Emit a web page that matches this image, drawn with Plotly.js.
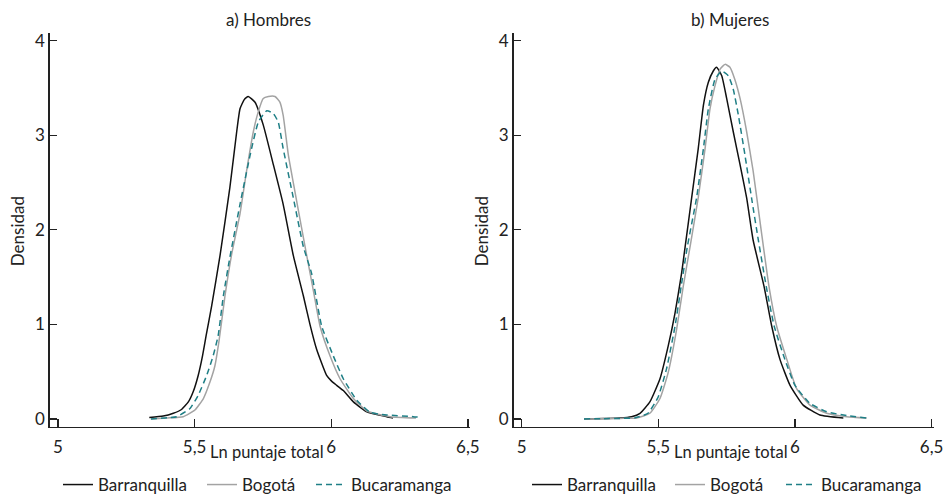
<!DOCTYPE html>
<html>
<head>
<meta charset="utf-8">
<script src="https://cdn.plot.ly/plotly-3.0.1.min.js"></script>
<style>
html,body{margin:0;padding:0;background:#fff;}
#chart{width:948px;height:503px;}
</style>
</head>
<body>
<div id="chart"></div>
<script>
// ---- Data ----
const seriesNames = ['Barranquilla', 'Bogotá', 'Bucaramanga'];
const panelTitles = ['a) Hombres', 'b) Mujeres'];
const xTitle = 'Ln puntaje total';
const yTitle = 'Densidad';
const xTickVals = [5, 5.5, 6, 6.5];
const xTickText = ['5', '5,5', '6', '6,5'];
const yTickVals = [0, 1, 2, 3, 4];

// a) Hombres
const hombresBarranquillaX = [5.334,5.385,5.422,5.452,5.477,5.495,5.513,5.529,5.542,5.562,5.593,5.629,5.654,5.666,5.682,5.696,5.721,5.751,5.788,5.824,5.861,5.898,5.922,5.946,5.983,6.001,6.020,6.044,6.081,6.130,6.203,6.226];
const hombresBarranquillaY = [0.014,0.03,0.06,0.10,0.18,0.29,0.46,0.67,0.88,1.19,1.73,2.45,3.04,3.28,3.38,3.41,3.35,3.11,2.69,2.27,1.73,1.30,1.0,0.74,0.46,0.40,0.355,0.30,0.18,0.076,0.024,0.01];
const hombresBogotaX = [5.34,5.40,5.458,5.501,5.532,5.556,5.574,5.589,5.611,5.636,5.666,5.690,5.715,5.733,5.751,5.770,5.794,5.812,5.824,5.843,5.873,5.910,5.935,5.959,5.995,6.032,6.081,6.130,6.215,6.31];
const hombresBogotaY = [0.0,0.01,0.024,0.094,0.216,0.39,0.56,0.82,1.30,1.75,2.17,2.62,3.04,3.25,3.39,3.41,3.41,3.35,3.21,2.79,2.31,1.73,1.35,0.98,0.67,0.425,0.216,0.084,0.024,0.01];
const hombresBucaramangaX = [5.34,5.40,5.434,5.483,5.513,5.544,5.568,5.586,5.605,5.629,5.666,5.703,5.733,5.764,5.788,5.806,5.824,5.861,5.898,5.928,5.965,6.007,6.044,6.093,6.142,6.203,6.30,6.316];
const hombresBucaramangaY = [0.0,0.012,0.024,0.11,0.25,0.46,0.67,0.88,1.30,1.71,2.27,2.79,3.14,3.26,3.23,3.14,2.86,2.34,1.82,1.54,0.98,0.67,0.425,0.20,0.07,0.042,0.024,0.02];

// b) Mujeres
const mujeresBarranquillaX = [5.228,5.30,5.36,5.402,5.433,5.469,5.506,5.536,5.561,5.585,5.598,5.622,5.646,5.665,5.683,5.701,5.713,5.732,5.75,5.774,5.799,5.823,5.847,5.887,5.915,5.945,5.982,6.03,6.091,6.177];
const mujeresBarranquillaY = [0.0,0.005,0.01,0.024,0.06,0.18,0.425,0.77,1.12,1.54,1.82,2.34,2.86,3.32,3.56,3.68,3.72,3.63,3.39,3.04,2.69,2.34,1.89,1.4,0.98,0.63,0.355,0.146,0.042,0.01];
const mujeresBogotaX = [5.228,5.30,5.36,5.421,5.469,5.506,5.536,5.567,5.591,5.616,5.646,5.671,5.689,5.707,5.726,5.744,5.762,5.780,5.799,5.823,5.847,5.878,5.905,5.933,5.970,6.006,6.055,6.116,6.189,6.262];
const mujeresBogotaY = [0.0,0.003,0.006,0.01,0.06,0.216,0.49,0.95,1.40,1.82,2.34,2.86,3.28,3.52,3.70,3.75,3.72,3.59,3.39,3.04,2.62,1.96,1.4,0.98,0.63,0.32,0.146,0.06,0.024,0.01];
const mujeresBucaramangaX = [5.228,5.30,5.36,5.415,5.462,5.499,5.530,5.561,5.585,5.606,5.640,5.665,5.683,5.707,5.732,5.756,5.774,5.793,5.817,5.841,5.866,5.895,5.924,5.963,6.0,6.055,6.116,6.189,6.262];
const mujeresBucaramangaY = [0.0,0.003,0.006,0.012,0.06,0.23,0.53,0.98,1.43,1.82,2.34,2.86,3.28,3.59,3.68,3.63,3.49,3.21,2.79,2.34,1.89,1.4,0.98,0.63,0.355,0.164,0.076,0.035,0.01];

// ---- Styles ----
const FONT = 'Lato, "Open Sans", sans-serif';
const FS = 17;
const TXT = '#222';
const lineStyles = [
  {color: '#111111', width: 1.5, dash: 'solid'},
  {color: '#a3a3a3', width: 1.5, dash: 'solid'},
  {color: '#1f7f86', width: 1.5, dash: '6px,4px'}
];

function mk(x, y, i, xa, ya, leg) {
  return {
    x: x, y: y, type: 'scatter', mode: 'lines',
    name: seriesNames[i], xaxis: xa, yaxis: ya,
    legend: leg, showlegend: true,
    line: Object.assign({shape: 'spline', smoothing: 0.45}, lineStyles[i]),
    hoverinfo: 'x+y+name'
  };
}

const traces = [
  mk(hombresBarranquillaX, hombresBarranquillaY, 0, 'x', 'y', 'legend'),
  mk(hombresBogotaX, hombresBogotaY, 1, 'x', 'y', 'legend2'),
  mk(hombresBucaramangaX, hombresBucaramangaY, 2, 'x', 'y', 'legend3'),
  mk(mujeresBarranquillaX, mujeresBarranquillaY, 0, 'x2', 'y2', 'legend4'),
  mk(mujeresBogotaX, mujeresBogotaY, 1, 'x2', 'y2', 'legend5'),
  mk(mujeresBucaramangaX, mujeresBucaramangaY, 2, 'x2', 'y2', 'legend6')
];

const W = 948, H = 503;
const px = v => v / W;
const py = v => 1 - v / H;

function xax(d0, d1, anchor) {
  return {
    domain: [px(d0), px(d1)], anchor: anchor, range: [4.970, 6.508],
    tickmode: 'array', tickvals: xTickVals, ticktext: xTickText,
    ticks: 'inside', ticklen: 8, tickwidth: 1.3, tickcolor: '#222',
    ticklabelstandoff: 4,
    showline: true, linecolor: '#222', linewidth: 1.5,
    showgrid: false, zeroline: false,
    tickfont: {family: FONT, size: FS, color: TXT},
    fixedrange: true
  };
}
function yax(anchor) {
  return {
    domain: [py(432), py(33)], anchor: anchor, range: [-0.0836, 4.086],
    tickmode: 'array', tickvals: yTickVals,
    ticks: 'inside', ticklen: 7, tickwidth: 1.3, tickcolor: '#222',
    showline: true, linecolor: '#222', linewidth: 1.5,
    showgrid: false, zeroline: false,
    tickfont: {family: FONT, size: FS, color: TXT},
    fixedrange: true
  };
}

function leg(xpx) {
  return {
    orientation: 'h', yanchor: 'middle', xanchor: 'left', y: py(491), x: px(xpx),
    font: {family: FONT, size: FS, color: TXT},
    bgcolor: 'rgba(0,0,0,0)', borderwidth: 0, itemwidth: 30,
    itemclick: false, itemdoubleclick: false
  };
}

function ann(text, x, y, extra) {
  return Object.assign({
    text: text, xref: 'paper', yref: 'paper', x: px(x), y: py(y),
    xanchor: 'center', yanchor: 'middle', showarrow: false,
    font: {family: FONT, size: FS, color: TXT}
  }, extra || {});
}

const layout = {
  width: W, height: H,
  margin: {l: 0, r: 0, t: 0, b: 0},
  paper_bgcolor: '#fff', plot_bgcolor: '#fff',
  showlegend: true,
  xaxis: xax(49.8, 470.1, 'y'),
  yaxis: yax('x'),
  xaxis2: xax(513.5, 933.8, 'y2'),
  yaxis2: yax('x2'),
  legend: leg(58), legend2: leg(202), legend3: leg(311),
  legend4: leg(527), legend5: leg(670), legend6: leg(781),
  annotations: [
    ann(panelTitles[0], 268, 20),
    ann(panelTitles[1], 730, 20),
    ann(xTitle, 267, 457, {font: {family: FONT, size: 16.5, color: TXT}}),
    ann(xTitle, 731, 457, {font: {family: FONT, size: 16.5, color: TXT}}),
    ann(yTitle, 17, 234, {textangle: -90}),
    ann(yTitle, 481, 234, {textangle: -90})
  ]
};

Plotly.newPlot('chart', traces, layout, {displayModeBar: false, staticPlot: true});
</script>
</body>
</html>
